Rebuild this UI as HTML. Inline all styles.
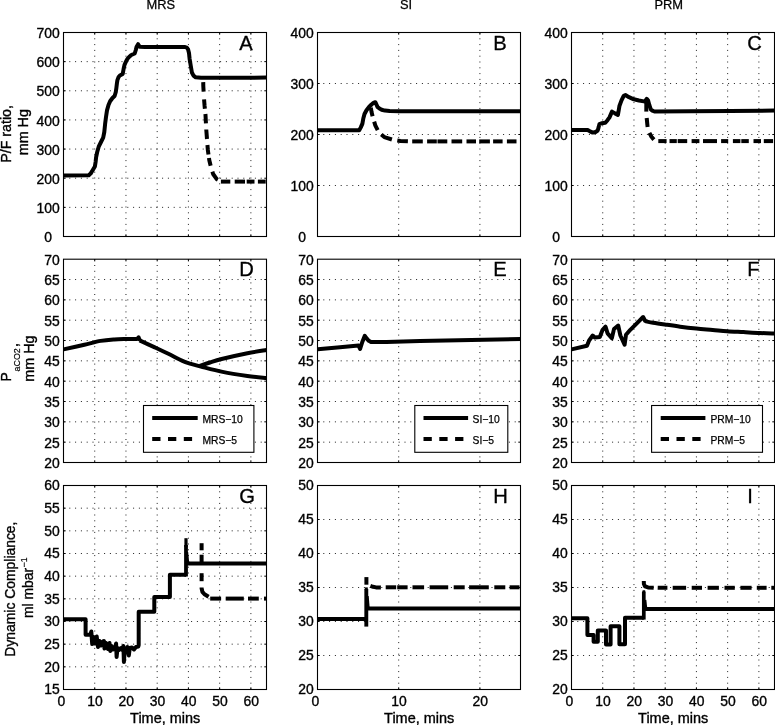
<!DOCTYPE html>
<html lang="en"><head><meta charset="utf-8"><title>Figure</title><style>
html,body{margin:0;padding:0;background:#fff;}
body{width:775px;height:725px;overflow:hidden;}
svg{display:block;font-family:"Liberation Sans", Arial, Helvetica, sans-serif;}
.gr{stroke:#000;stroke-opacity:.88;stroke-width:1;stroke-dasharray:1 4.8;fill:none;}
.tk{stroke:#000;stroke-width:1;fill:none;}
.bx{stroke:#000;stroke-width:1.1;fill:none;}
.lg{stroke:#000;stroke-width:1.1;fill:#fff;}
.cv{stroke:#000;stroke-width:4.0;fill:none;stroke-linejoin:round;stroke-linecap:butt;}
.ds{stroke-dasharray:9.1 6.3;}
.ds2{stroke-dasharray:8.3 7.5;}
.t{font-size:13.9px;fill:#000;stroke:#000;stroke-width:0.35px;}
.ti{font-size:12.9px;fill:#000;stroke:#000;stroke-width:0.25px;}
.L{font-size:20.2px;fill:#000;stroke:#000;stroke-width:0.3px;}
.cm{font-size:16px;fill:#000;stroke:#000;stroke-width:0.3px;}
.sb{font-size:8.9px;fill:#000;stroke:#000;stroke-width:0.2px;}
.lt{font-size:10.3px;fill:#000;stroke:#000;stroke-width:0.25px;}
</style></head><body>
<svg width="775" height="725" viewBox="0 0 775 725">
<rect width="775" height="725" fill="#fff"/>
<g><line class="gr" x1="94.73" y1="32.5" x2="94.73" y2="236.5"/>
<line class="gr" x1="125.96" y1="32.5" x2="125.96" y2="236.5"/>
<line class="gr" x1="157.19" y1="32.5" x2="157.19" y2="236.5"/>
<line class="gr" x1="188.42" y1="32.5" x2="188.42" y2="236.5"/>
<line class="gr" x1="219.65" y1="32.5" x2="219.65" y2="236.5"/>
<line class="gr" x1="250.88" y1="32.5" x2="250.88" y2="236.5"/>
<line class="gr" x1="63.5" y1="207.36" x2="266.5" y2="207.36"/>
<line class="gr" x1="63.5" y1="178.21" x2="266.5" y2="178.21"/>
<line class="gr" x1="63.5" y1="149.07" x2="266.5" y2="149.07"/>
<line class="gr" x1="63.5" y1="119.93" x2="266.5" y2="119.93"/>
<line class="gr" x1="63.5" y1="90.79" x2="266.5" y2="90.79"/>
<line class="gr" x1="63.5" y1="61.64" x2="266.5" y2="61.64"/>
<path class="tk" d="M94.73 236.5v-2.2 M94.73 32.5v2.2"/>
<path class="tk" d="M125.96 236.5v-2.2 M125.96 32.5v2.2"/>
<path class="tk" d="M157.19 236.5v-2.2 M157.19 32.5v2.2"/>
<path class="tk" d="M188.42 236.5v-2.2 M188.42 32.5v2.2"/>
<path class="tk" d="M219.65 236.5v-2.2 M219.65 32.5v2.2"/>
<path class="tk" d="M250.88 236.5v-2.2 M250.88 32.5v2.2"/>
<path class="tk" d="M63.5 207.36h2.2 M266.5 207.36h-2.2"/>
<path class="tk" d="M63.5 178.21h2.2 M266.5 178.21h-2.2"/>
<path class="tk" d="M63.5 149.07h2.2 M266.5 149.07h-2.2"/>
<path class="tk" d="M63.5 119.93h2.2 M266.5 119.93h-2.2"/>
<path class="tk" d="M63.5 90.79h2.2 M266.5 90.79h-2.2"/>
<path class="tk" d="M63.5 61.64h2.2 M266.5 61.64h-2.2"/>
<polyline class="cv" points="203.23,82.1 203.3,86 203.62,91.6"/>
<polyline class="cv" points="204.08,99.3 204.6,106 204.88,108.8"/>
<polyline class="cv" points="205.4,114 205.5,115 205.95,123.4"/>
<polyline class="cv" points="206.27,129.5 206.3,130 206.99,139"/>
<polyline class="cv" points="207.45,145 207.8,149.7 208.48,154.5"/>
<polyline class="cv" points="208.97,158 209.3,160.3 210.63,165.7"/>
<polyline class="cv" points="212.4,171.7 213.1,174 216.9,179.3 217.85,179.8"/>
<polyline class="cv" points="220.9,181.6 230.3,181.6"/>
<polyline class="cv" points="234.7,181.6 245,181.6"/>
<polyline class="cv" points="246.7,181.6 254.5,181.6"/>
<polyline class="cv" points="257.9,181.6 265.7,181.6"/>
<polyline class="cv" points="63.5,175.4 88.8,175.2 90.6,173.6 92.2,171 94.9,166.4 95.6,162 96.1,157.3 97.2,152 98.7,146.7 101,142 103.2,137.6 104.3,132 105.1,124.1 106,117 107,110.4 108.5,105 110.1,101.3 112.5,98 114.6,96 115.8,92 116.4,87.7 116.9,83.5 117.4,80.1 118.6,77 119.9,75.5 122.7,74 123.6,69 124.5,64.9 126,61.5 127.5,58.8 129.3,56.7 131.3,55 134.7,53.5 135.8,50 136.6,46.7 138.1,44.2 139.7,46.8 145,47.1 160,47 184.5,46.9 186.8,47.6 188.1,49.4 189,53 189.6,58.8 190.8,66 191.9,72.5 193.5,75.6 195.7,77.3 201,77.8 266.5,77.6"/>
<rect class="bx" x="63.5" y="32.5" width="203" height="204"/>
<text class="t" text-anchor="end" x="52" y="242.1">0</text>
<text class="t" text-anchor="end" x="59.7" y="212.96">100</text>
<text class="t" text-anchor="end" x="59.7" y="183.81">200</text>
<text class="t" text-anchor="end" x="59.7" y="154.67">300</text>
<text class="t" text-anchor="end" x="59.7" y="125.53">400</text>
<text class="t" text-anchor="end" x="59.7" y="96.39">500</text>
<text class="t" text-anchor="end" x="59.7" y="67.24">600</text>
<text class="t" text-anchor="end" x="59.7" y="38.1">700</text>
<text class="L" x="239.2" y="49.8">A</text></g>
<g><line class="gr" x1="398.7" y1="32.5" x2="398.7" y2="236.5"/>
<line class="gr" x1="479.9" y1="32.5" x2="479.9" y2="236.5"/>
<line class="gr" x1="317.5" y1="185.5" x2="520.5" y2="185.5"/>
<line class="gr" x1="317.5" y1="134.5" x2="520.5" y2="134.5"/>
<line class="gr" x1="317.5" y1="83.5" x2="520.5" y2="83.5"/>
<path class="tk" d="M398.7 236.5v-2.2 M398.7 32.5v2.2"/>
<path class="tk" d="M479.9 236.5v-2.2 M479.9 32.5v2.2"/>
<path class="tk" d="M317.5 185.5h2.2 M520.5 185.5h-2.2"/>
<path class="tk" d="M317.5 134.5h2.2 M520.5 134.5h-2.2"/>
<path class="tk" d="M317.5 83.5h2.2 M520.5 83.5h-2.2"/>
<polyline class="cv" points="370.74,107.8 371,108.8 371.6,112.3 372.58,116.3"/>
<polyline class="cv" points="374.18,121.6 375.3,125.3 377.7,130.1"/>
<polyline class="cv" points="381.3,134.54 384.3,137.1 391.9,139.49"/>
<polyline class="cv" points="397.3,140.53 400.4,141 407.9,141.31"/>
<polyline class="cv" points="412.2,141.4 422.8,141.4"/>
<polyline class="cv" points="427.1,141.4 436.8,141.4"/>
<polyline class="cv" points="437.5,141.4 447.3,141.4"/>
<polyline class="cv" points="451.5,141.4 462.2,141.4"/>
<polyline class="cv" points="466.5,141.4 476,141.4"/>
<polyline class="cv" points="479.2,141.4 489.9,141.4"/>
<polyline class="cv" points="493.1,141.4 502.6,141.4"/>
<polyline class="cv" points="506.9,141.4 516.5,141.4"/>
<polyline class="cv" points="317.7,130.3 359.2,130.3 360.8,127.4 362.4,123.6 363.3,118.5 364.5,114 366.5,110.2 369,107 371.5,104.5 373.5,102.9 375.3,102.2 376.3,104.2 377.5,106.9 379.5,108.6 381.6,109.7 385,110.6 389.7,111 400,111.2 520.7,111.2"/>
<rect class="bx" x="317.5" y="32.5" width="203" height="204"/>
<text class="t" text-anchor="end" x="306" y="242.1">0</text>
<text class="t" text-anchor="end" x="313.7" y="191.1">100</text>
<text class="t" text-anchor="end" x="313.7" y="140.1">200</text>
<text class="t" text-anchor="end" x="313.7" y="89.1">300</text>
<text class="t" text-anchor="end" x="313.7" y="38.1">400</text>
<text class="L" x="493.2" y="49.8">B</text></g>
<g><line class="gr" x1="602.73" y1="32.5" x2="602.73" y2="236.5"/>
<line class="gr" x1="633.96" y1="32.5" x2="633.96" y2="236.5"/>
<line class="gr" x1="665.19" y1="32.5" x2="665.19" y2="236.5"/>
<line class="gr" x1="696.42" y1="32.5" x2="696.42" y2="236.5"/>
<line class="gr" x1="727.65" y1="32.5" x2="727.65" y2="236.5"/>
<line class="gr" x1="758.88" y1="32.5" x2="758.88" y2="236.5"/>
<line class="gr" x1="571.5" y1="185.5" x2="774.5" y2="185.5"/>
<line class="gr" x1="571.5" y1="134.5" x2="774.5" y2="134.5"/>
<line class="gr" x1="571.5" y1="83.5" x2="774.5" y2="83.5"/>
<path class="tk" d="M602.73 236.5v-2.2 M602.73 32.5v2.2"/>
<path class="tk" d="M633.96 236.5v-2.2 M633.96 32.5v2.2"/>
<path class="tk" d="M665.19 236.5v-2.2 M665.19 32.5v2.2"/>
<path class="tk" d="M696.42 236.5v-2.2 M696.42 32.5v2.2"/>
<path class="tk" d="M727.65 236.5v-2.2 M727.65 32.5v2.2"/>
<path class="tk" d="M758.88 236.5v-2.2 M758.88 32.5v2.2"/>
<path class="tk" d="M571.5 185.5h2.2 M774.5 185.5h-2.2"/>
<path class="tk" d="M571.5 134.5h2.2 M774.5 134.5h-2.2"/>
<path class="tk" d="M571.5 83.5h2.2 M774.5 83.5h-2.2"/>
<polyline class="cv" points="646.3,99.5 646.3,111.6 646.3,111.6"/>
<polyline class="cv" points="646.7,118 646.7,118 647.6,127 647.6,127"/>
<polyline class="cv" points="649.4,132.9 649.4,132.9 651.5,136.8 653.9,139.6"/>
<polyline class="cv" points="658.3,141.1 666.6,141.1"/>
<polyline class="cv" points="669.5,141.1 676.8,141.1"/>
<polyline class="cv" points="677.7,141.1 687.2,141.1"/>
<polyline class="cv" points="691.6,141.1 699.4,141.1"/>
<polyline class="cv" points="703,141.1 717,141.1"/>
<polyline class="cv" points="721.1,141.1 728.2,141.1"/>
<polyline class="cv" points="732.9,141.1 740.4,141.1"/>
<polyline class="cv" points="741.3,141.1 748.8,141.1"/>
<polyline class="cv" points="753.5,141.1 761,141.1"/>
<polyline class="cv" points="763.8,141.1 773.1,141.1"/>
<polyline class="cv" points="571.5,130 587.7,130 590,131.4 592.7,132.6 595.5,132 597.7,130.5 598.6,127.4 599.4,124.1 602,123.2 605.3,122.8 607.5,120.2 609.5,117.4 610.8,114.4 612,111.6 615,113.4 617.9,114.9 618.7,110.4 619.5,105.7 621.5,100.4 623.7,95.8 625.4,95.1 629,97.2 633.8,99.3 639,100.5 643.9,101.4 644.8,101.6 646.7,98.8 648.1,100.6 649.3,105 650.8,109.4 652.4,110.7 654.4,111.5 690,111.3 730,110.9 774.5,110.6"/>
<rect class="bx" x="571.5" y="32.5" width="203" height="204"/>
<text class="t" text-anchor="end" x="560" y="242.1">0</text>
<text class="t" text-anchor="end" x="567.7" y="191.1">100</text>
<text class="t" text-anchor="end" x="567.7" y="140.1">200</text>
<text class="t" text-anchor="end" x="567.7" y="89.1">300</text>
<text class="t" text-anchor="end" x="567.7" y="38.1">400</text>
<text class="L" x="747.2" y="49.8">C</text></g>
<g><line class="gr" x1="94.73" y1="259.2" x2="94.73" y2="462.5"/>
<line class="gr" x1="125.96" y1="259.2" x2="125.96" y2="462.5"/>
<line class="gr" x1="157.19" y1="259.2" x2="157.19" y2="462.5"/>
<line class="gr" x1="188.42" y1="259.2" x2="188.42" y2="462.5"/>
<line class="gr" x1="219.65" y1="259.2" x2="219.65" y2="462.5"/>
<line class="gr" x1="250.88" y1="259.2" x2="250.88" y2="462.5"/>
<line class="gr" x1="63.5" y1="442.17" x2="266.5" y2="442.17"/>
<line class="gr" x1="63.5" y1="421.84" x2="266.5" y2="421.84"/>
<line class="gr" x1="63.5" y1="401.51" x2="266.5" y2="401.51"/>
<line class="gr" x1="63.5" y1="381.18" x2="266.5" y2="381.18"/>
<line class="gr" x1="63.5" y1="360.85" x2="266.5" y2="360.85"/>
<line class="gr" x1="63.5" y1="340.52" x2="266.5" y2="340.52"/>
<line class="gr" x1="63.5" y1="320.19" x2="266.5" y2="320.19"/>
<line class="gr" x1="63.5" y1="299.86" x2="266.5" y2="299.86"/>
<line class="gr" x1="63.5" y1="279.53" x2="266.5" y2="279.53"/>
<path class="tk" d="M94.73 462.5v-2.2 M94.73 259.2v2.2"/>
<path class="tk" d="M125.96 462.5v-2.2 M125.96 259.2v2.2"/>
<path class="tk" d="M157.19 462.5v-2.2 M157.19 259.2v2.2"/>
<path class="tk" d="M188.42 462.5v-2.2 M188.42 259.2v2.2"/>
<path class="tk" d="M219.65 462.5v-2.2 M219.65 259.2v2.2"/>
<path class="tk" d="M250.88 462.5v-2.2 M250.88 259.2v2.2"/>
<path class="tk" d="M63.5 442.17h2.2 M266.5 442.17h-2.2"/>
<path class="tk" d="M63.5 421.84h2.2 M266.5 421.84h-2.2"/>
<path class="tk" d="M63.5 401.51h2.2 M266.5 401.51h-2.2"/>
<path class="tk" d="M63.5 381.18h2.2 M266.5 381.18h-2.2"/>
<path class="tk" d="M63.5 360.85h2.2 M266.5 360.85h-2.2"/>
<path class="tk" d="M63.5 340.52h2.2 M266.5 340.52h-2.2"/>
<path class="tk" d="M63.5 320.19h2.2 M266.5 320.19h-2.2"/>
<path class="tk" d="M63.5 299.86h2.2 M266.5 299.86h-2.2"/>
<path class="tk" d="M63.5 279.53h2.2 M266.5 279.53h-2.2"/>
<path class="cv" d="M63.5 349.4C66.98 348.62 78.22 346.12 84.4 344.7C90.58 343.28 95.63 341.78 100.6 340.9C105.57 340.02 109.97 339.72 114.2 339.4C118.43 339.08 122.13 339.08 126 339C129.87 338.92 135.5 338.92 137.4 338.9"/>
<polyline class="cv" points="136.5,338.9 137.6,338.6 138.6,337.4 139.9,340.6"/>
<path class="cv" d="M139.6 340.4C142.13 341.57 150 345.17 154.8 347.4C159.6 349.63 163.88 351.6 168.4 353.8C172.92 356 178.3 358.97 181.9 360.6C185.5 362.23 186.83 362.6 190 363.6C193.17 364.6 195.47 365.22 200.9 366.6C206.33 367.98 214.85 370.35 222.6 371.9C230.35 373.45 240.08 374.88 247.4 375.9C254.72 376.92 263.32 377.65 266.5 378"/>
<path class="cv" d="M199.7 366C201.42 365.42 206.35 363.67 210 362.5C213.65 361.33 215.37 360.55 221.6 359C227.83 357.45 239.92 354.7 247.4 353.2C254.88 351.7 263.32 350.53 266.5 350"/>
<rect class="bx" x="63.5" y="259.2" width="203" height="203.3"/>
<text class="t" text-anchor="end" x="59.7" y="467.9">20</text>
<text class="t" text-anchor="end" x="59.7" y="447.57">25</text>
<text class="t" text-anchor="end" x="59.7" y="427.24">30</text>
<text class="t" text-anchor="end" x="59.7" y="406.91">35</text>
<text class="t" text-anchor="end" x="59.7" y="386.58">40</text>
<text class="t" text-anchor="end" x="59.7" y="366.25">45</text>
<text class="t" text-anchor="end" x="59.7" y="345.92">50</text>
<text class="t" text-anchor="end" x="59.7" y="325.59">55</text>
<text class="t" text-anchor="end" x="59.7" y="305.26">60</text>
<text class="t" text-anchor="end" x="59.7" y="284.93">65</text>
<text class="t" text-anchor="end" x="59.7" y="264.6">70</text>
<text class="L" x="239.2" y="275.8">D</text></g>
<g><line class="gr" x1="398.7" y1="259.2" x2="398.7" y2="462.5"/>
<line class="gr" x1="479.9" y1="259.2" x2="479.9" y2="462.5"/>
<line class="gr" x1="317.5" y1="442.17" x2="520.5" y2="442.17"/>
<line class="gr" x1="317.5" y1="421.84" x2="520.5" y2="421.84"/>
<line class="gr" x1="317.5" y1="401.51" x2="520.5" y2="401.51"/>
<line class="gr" x1="317.5" y1="381.18" x2="520.5" y2="381.18"/>
<line class="gr" x1="317.5" y1="360.85" x2="520.5" y2="360.85"/>
<line class="gr" x1="317.5" y1="340.52" x2="520.5" y2="340.52"/>
<line class="gr" x1="317.5" y1="320.19" x2="520.5" y2="320.19"/>
<line class="gr" x1="317.5" y1="299.86" x2="520.5" y2="299.86"/>
<line class="gr" x1="317.5" y1="279.53" x2="520.5" y2="279.53"/>
<path class="tk" d="M398.7 462.5v-2.2 M398.7 259.2v2.2"/>
<path class="tk" d="M479.9 462.5v-2.2 M479.9 259.2v2.2"/>
<path class="tk" d="M317.5 442.17h2.2 M520.5 442.17h-2.2"/>
<path class="tk" d="M317.5 421.84h2.2 M520.5 421.84h-2.2"/>
<path class="tk" d="M317.5 401.51h2.2 M520.5 401.51h-2.2"/>
<path class="tk" d="M317.5 381.18h2.2 M520.5 381.18h-2.2"/>
<path class="tk" d="M317.5 360.85h2.2 M520.5 360.85h-2.2"/>
<path class="tk" d="M317.5 340.52h2.2 M520.5 340.52h-2.2"/>
<path class="tk" d="M317.5 320.19h2.2 M520.5 320.19h-2.2"/>
<path class="tk" d="M317.5 299.86h2.2 M520.5 299.86h-2.2"/>
<path class="tk" d="M317.5 279.53h2.2 M520.5 279.53h-2.2"/>
<polyline class="cv" points="317.7,349.2 340,347.3 358.6,345.6 360.1,348.9 362.3,342 364.8,335.8 366.8,338.6 368.8,340.8 371,342 386.4,341.9 420,340.9 520.7,339"/>
<rect class="bx" x="317.5" y="259.2" width="203" height="203.3"/>
<text class="t" text-anchor="end" x="313.7" y="467.9">20</text>
<text class="t" text-anchor="end" x="313.7" y="447.57">25</text>
<text class="t" text-anchor="end" x="313.7" y="427.24">30</text>
<text class="t" text-anchor="end" x="313.7" y="406.91">35</text>
<text class="t" text-anchor="end" x="313.7" y="386.58">40</text>
<text class="t" text-anchor="end" x="313.7" y="366.25">45</text>
<text class="t" text-anchor="end" x="313.7" y="345.92">50</text>
<text class="t" text-anchor="end" x="313.7" y="325.59">55</text>
<text class="t" text-anchor="end" x="313.7" y="305.26">60</text>
<text class="t" text-anchor="end" x="313.7" y="284.93">65</text>
<text class="t" text-anchor="end" x="313.7" y="264.6">70</text>
<text class="L" x="493.2" y="275.8">E</text></g>
<g><line class="gr" x1="602.73" y1="259.2" x2="602.73" y2="462.5"/>
<line class="gr" x1="633.96" y1="259.2" x2="633.96" y2="462.5"/>
<line class="gr" x1="665.19" y1="259.2" x2="665.19" y2="462.5"/>
<line class="gr" x1="696.42" y1="259.2" x2="696.42" y2="462.5"/>
<line class="gr" x1="727.65" y1="259.2" x2="727.65" y2="462.5"/>
<line class="gr" x1="758.88" y1="259.2" x2="758.88" y2="462.5"/>
<line class="gr" x1="571.5" y1="442.17" x2="774.5" y2="442.17"/>
<line class="gr" x1="571.5" y1="421.84" x2="774.5" y2="421.84"/>
<line class="gr" x1="571.5" y1="401.51" x2="774.5" y2="401.51"/>
<line class="gr" x1="571.5" y1="381.18" x2="774.5" y2="381.18"/>
<line class="gr" x1="571.5" y1="360.85" x2="774.5" y2="360.85"/>
<line class="gr" x1="571.5" y1="340.52" x2="774.5" y2="340.52"/>
<line class="gr" x1="571.5" y1="320.19" x2="774.5" y2="320.19"/>
<line class="gr" x1="571.5" y1="299.86" x2="774.5" y2="299.86"/>
<line class="gr" x1="571.5" y1="279.53" x2="774.5" y2="279.53"/>
<path class="tk" d="M602.73 462.5v-2.2 M602.73 259.2v2.2"/>
<path class="tk" d="M633.96 462.5v-2.2 M633.96 259.2v2.2"/>
<path class="tk" d="M665.19 462.5v-2.2 M665.19 259.2v2.2"/>
<path class="tk" d="M696.42 462.5v-2.2 M696.42 259.2v2.2"/>
<path class="tk" d="M727.65 462.5v-2.2 M727.65 259.2v2.2"/>
<path class="tk" d="M758.88 462.5v-2.2 M758.88 259.2v2.2"/>
<path class="tk" d="M571.5 442.17h2.2 M774.5 442.17h-2.2"/>
<path class="tk" d="M571.5 421.84h2.2 M774.5 421.84h-2.2"/>
<path class="tk" d="M571.5 401.51h2.2 M774.5 401.51h-2.2"/>
<path class="tk" d="M571.5 381.18h2.2 M774.5 381.18h-2.2"/>
<path class="tk" d="M571.5 360.85h2.2 M774.5 360.85h-2.2"/>
<path class="tk" d="M571.5 340.52h2.2 M774.5 340.52h-2.2"/>
<path class="tk" d="M571.5 320.19h2.2 M774.5 320.19h-2.2"/>
<path class="tk" d="M571.5 299.86h2.2 M774.5 299.86h-2.2"/>
<path class="tk" d="M571.5 279.53h2.2 M774.5 279.53h-2.2"/>
<polyline class="cv" points="571.5,349.4 587,345.7 589.1,340.5 592.7,335.5 594.8,337.6 599.8,336.9 602.6,329.8 605.5,326.7 607.6,333.4 611.8,338.3 614,329.1 618.2,325.5 620.4,335.5 624.6,344.7 626,334.8 630.3,329.8 638.8,321.3 643.1,317 645.2,321 646.5,321.5"/>
<path class="cv" d="M645.8 321.3C647.02 321.53 649.93 322.17 653.1 322.7C656.27 323.23 660.28 323.83 664.8 324.5C669.32 325.17 674.93 326.03 680.2 326.7C685.47 327.37 690.98 327.97 696.4 328.5C701.82 329.03 707.58 329.45 712.7 329.9C717.82 330.35 721.98 330.83 727.1 331.2C732.22 331.57 737.98 331.8 743.4 332.1C748.82 332.4 754.42 332.77 759.6 333C764.78 333.23 772.02 333.42 774.5 333.5"/>
<rect class="bx" x="571.5" y="259.2" width="203" height="203.3"/>
<text class="t" text-anchor="end" x="567.7" y="467.9">20</text>
<text class="t" text-anchor="end" x="567.7" y="447.57">25</text>
<text class="t" text-anchor="end" x="567.7" y="427.24">30</text>
<text class="t" text-anchor="end" x="567.7" y="406.91">35</text>
<text class="t" text-anchor="end" x="567.7" y="386.58">40</text>
<text class="t" text-anchor="end" x="567.7" y="366.25">45</text>
<text class="t" text-anchor="end" x="567.7" y="345.92">50</text>
<text class="t" text-anchor="end" x="567.7" y="325.59">55</text>
<text class="t" text-anchor="end" x="567.7" y="305.26">60</text>
<text class="t" text-anchor="end" x="567.7" y="284.93">65</text>
<text class="t" text-anchor="end" x="567.7" y="264.6">70</text>
<text class="L" x="747.2" y="275.8">F</text></g>
<g><line class="gr" x1="94.73" y1="485.5" x2="94.73" y2="689.5"/>
<line class="gr" x1="125.96" y1="485.5" x2="125.96" y2="689.5"/>
<line class="gr" x1="157.19" y1="485.5" x2="157.19" y2="689.5"/>
<line class="gr" x1="188.42" y1="485.5" x2="188.42" y2="689.5"/>
<line class="gr" x1="219.65" y1="485.5" x2="219.65" y2="689.5"/>
<line class="gr" x1="250.88" y1="485.5" x2="250.88" y2="689.5"/>
<line class="gr" x1="63.5" y1="666.83" x2="266.5" y2="666.83"/>
<line class="gr" x1="63.5" y1="644.17" x2="266.5" y2="644.17"/>
<line class="gr" x1="63.5" y1="621.5" x2="266.5" y2="621.5"/>
<line class="gr" x1="63.5" y1="598.83" x2="266.5" y2="598.83"/>
<line class="gr" x1="63.5" y1="576.17" x2="266.5" y2="576.17"/>
<line class="gr" x1="63.5" y1="553.5" x2="266.5" y2="553.5"/>
<line class="gr" x1="63.5" y1="530.83" x2="266.5" y2="530.83"/>
<line class="gr" x1="63.5" y1="508.17" x2="266.5" y2="508.17"/>
<path class="tk" d="M94.73 689.5v-2.2 M94.73 485.5v2.2"/>
<path class="tk" d="M125.96 689.5v-2.2 M125.96 485.5v2.2"/>
<path class="tk" d="M157.19 689.5v-2.2 M157.19 485.5v2.2"/>
<path class="tk" d="M188.42 689.5v-2.2 M188.42 485.5v2.2"/>
<path class="tk" d="M219.65 689.5v-2.2 M219.65 485.5v2.2"/>
<path class="tk" d="M250.88 689.5v-2.2 M250.88 485.5v2.2"/>
<path class="tk" d="M63.5 666.83h2.2 M266.5 666.83h-2.2"/>
<path class="tk" d="M63.5 644.17h2.2 M266.5 644.17h-2.2"/>
<path class="tk" d="M63.5 621.5h2.2 M266.5 621.5h-2.2"/>
<path class="tk" d="M63.5 598.83h2.2 M266.5 598.83h-2.2"/>
<path class="tk" d="M63.5 576.17h2.2 M266.5 576.17h-2.2"/>
<path class="tk" d="M63.5 553.5h2.2 M266.5 553.5h-2.2"/>
<path class="tk" d="M63.5 530.83h2.2 M266.5 530.83h-2.2"/>
<path class="tk" d="M63.5 508.17h2.2 M266.5 508.17h-2.2"/>
<polyline class="cv" points="201.6,543.2 201.6,550.3"/>
<polyline class="cv" points="201.6,554.7 201.6,565"/>
<polyline class="cv" points="201.6,573.2 201.6,581.2"/>
<polyline class="cv" points="201.6,587.4 201.6,588.3 202.4,591.9 204.5,594.3 208.6,596.8"/>
<polyline class="cv" points="210.2,598.6 221.1,598.6"/>
<polyline class="cv" points="225.7,598.6 243.8,598.6"/>
<polyline class="cv" points="248,598.6 258.8,598.6"/>
<polyline class="cv" points="264,598.6 266.5,598.6"/>
<polyline class="cv" points="63.5,619.3 85.6,619.3 85.6,634.8 90.5,634.8 91.3,631.5 92.2,644 93.5,637 95,643.5 96.7,636.5 98,647 99.5,641 101,645.5 102.5,642 103.9,641 104.5,648.5 106,643 108,649 109.5,643 110.3,651 111.5,646 113,649.5 115,647.5 116.1,643.5 116.6,657 117.5,648 119,650 121,648 122.5,650 123.4,646 123.9,662 124.8,649 126,651 127.5,647 128.8,655.5 129.8,648 132,647.5 134,649.5 136,647 138.3,646.5 138.7,645 138.7,611.8 154.3,611.8 154.3,597 169.9,597 169.9,574.8 186,574.8"/>
<polyline class="cv" style="stroke-width:3.8" points="186,576.5 186,545"/>
<polyline class="cv" style="stroke-width:3.2" points="186,547 186,538.2"/>
<polyline class="cv" style="stroke-width:2.4" points="187,552 188,562.8 191,563.4"/>
<polyline class="cv" points="186.5,563.5 266.5,563.5"/>
<rect class="bx" x="63.5" y="485.5" width="203" height="204"/>
<text class="t" text-anchor="middle" x="61.4" y="706.4">0</text>
<text class="t" text-anchor="middle" x="95.03" y="706.4">10</text>
<text class="t" text-anchor="middle" x="126.26" y="706.4">20</text>
<text class="t" text-anchor="middle" x="157.49" y="706.4">30</text>
<text class="t" text-anchor="middle" x="188.72" y="706.4">40</text>
<text class="t" text-anchor="middle" x="219.95" y="706.4">50</text>
<text class="t" text-anchor="middle" x="251.18" y="706.4">60</text>
<text class="t" text-anchor="end" x="59.7" y="694.3">15</text>
<text class="t" text-anchor="end" x="59.7" y="671.63">20</text>
<text class="t" text-anchor="end" x="59.7" y="648.97">25</text>
<text class="t" text-anchor="end" x="59.7" y="626.3">30</text>
<text class="t" text-anchor="end" x="59.7" y="603.63">35</text>
<text class="t" text-anchor="end" x="59.7" y="580.97">40</text>
<text class="t" text-anchor="end" x="59.7" y="558.3">45</text>
<text class="t" text-anchor="end" x="59.7" y="535.63">50</text>
<text class="t" text-anchor="end" x="59.7" y="512.97">55</text>
<text class="t" text-anchor="end" x="59.7" y="490.3">60</text>
<text class="L" x="239.2" y="502.6">G</text></g>
<g><line class="gr" x1="398.7" y1="485.5" x2="398.7" y2="689.5"/>
<line class="gr" x1="479.9" y1="485.5" x2="479.9" y2="689.5"/>
<line class="gr" x1="317.5" y1="655.5" x2="520.5" y2="655.5"/>
<line class="gr" x1="317.5" y1="621.5" x2="520.5" y2="621.5"/>
<line class="gr" x1="317.5" y1="587.5" x2="520.5" y2="587.5"/>
<line class="gr" x1="317.5" y1="553.5" x2="520.5" y2="553.5"/>
<line class="gr" x1="317.5" y1="519.5" x2="520.5" y2="519.5"/>
<path class="tk" d="M398.7 689.5v-2.2 M398.7 485.5v2.2"/>
<path class="tk" d="M479.9 689.5v-2.2 M479.9 485.5v2.2"/>
<path class="tk" d="M317.5 655.5h2.2 M520.5 655.5h-2.2"/>
<path class="tk" d="M317.5 621.5h2.2 M520.5 621.5h-2.2"/>
<path class="tk" d="M317.5 587.5h2.2 M520.5 587.5h-2.2"/>
<path class="tk" d="M317.5 553.5h2.2 M520.5 553.5h-2.2"/>
<path class="tk" d="M317.5 519.5h2.2 M520.5 519.5h-2.2"/>
<polyline class="cv" points="366.4,577.1 366.4,584.7"/>
<polyline class="cv" points="370.4,585.9 373,586.8 376,587.4 380.9,587.5 380.9,587.5"/>
<polyline class="cv" points="385.7,587.3 396.2,587.3"/>
<polyline class="cv" points="397.2,587.3 407.6,587.3"/>
<polyline class="cv" points="412.5,587.3 424.1,587.3"/>
<polyline class="cv" points="429.6,587.3 448.2,587.3"/>
<polyline class="cv" points="453.7,587.3 464.7,587.3"/>
<polyline class="cv" points="469.1,587.3 488.8,587.3"/>
<polyline class="cv" points="494.3,587.3 505.3,587.3"/>
<polyline class="cv" points="509.6,587.3 519.5,587.3"/>
<polyline class="cv" points="317.5,619.1 366.3,619.1"/>
<polyline class="cv" style="stroke-width:3.9" points="366.3,626.6 366.3,589"/>
<polyline class="cv" style="stroke-width:3" points="366.3,590 366.3,587.4"/>
<polyline class="cv" style="stroke-width:2.2" points="367.6,596 368.6,608.2"/>
<polyline class="cv" points="366.3,608.5 520.5,608.5"/>
<rect class="bx" x="317.5" y="485.5" width="203" height="204"/>
<text class="t" text-anchor="middle" x="315.4" y="706.4">0</text>
<text class="t" text-anchor="middle" x="399" y="706.4">10</text>
<text class="t" text-anchor="middle" x="480.2" y="706.4">20</text>
<text class="t" text-anchor="end" x="313.7" y="694.3">20</text>
<text class="t" text-anchor="end" x="313.7" y="660.3">25</text>
<text class="t" text-anchor="end" x="313.7" y="626.3">30</text>
<text class="t" text-anchor="end" x="313.7" y="592.3">35</text>
<text class="t" text-anchor="end" x="313.7" y="558.3">40</text>
<text class="t" text-anchor="end" x="313.7" y="524.3">45</text>
<text class="t" text-anchor="end" x="313.7" y="490.3">50</text>
<text class="L" x="493.2" y="502.6">H</text></g>
<g><line class="gr" x1="602.73" y1="485.5" x2="602.73" y2="689.5"/>
<line class="gr" x1="633.96" y1="485.5" x2="633.96" y2="689.5"/>
<line class="gr" x1="665.19" y1="485.5" x2="665.19" y2="689.5"/>
<line class="gr" x1="696.42" y1="485.5" x2="696.42" y2="689.5"/>
<line class="gr" x1="727.65" y1="485.5" x2="727.65" y2="689.5"/>
<line class="gr" x1="758.88" y1="485.5" x2="758.88" y2="689.5"/>
<line class="gr" x1="571.5" y1="655.5" x2="774.5" y2="655.5"/>
<line class="gr" x1="571.5" y1="621.5" x2="774.5" y2="621.5"/>
<line class="gr" x1="571.5" y1="587.5" x2="774.5" y2="587.5"/>
<line class="gr" x1="571.5" y1="553.5" x2="774.5" y2="553.5"/>
<line class="gr" x1="571.5" y1="519.5" x2="774.5" y2="519.5"/>
<path class="tk" d="M602.73 689.5v-2.2 M602.73 485.5v2.2"/>
<path class="tk" d="M633.96 689.5v-2.2 M633.96 485.5v2.2"/>
<path class="tk" d="M665.19 689.5v-2.2 M665.19 485.5v2.2"/>
<path class="tk" d="M696.42 689.5v-2.2 M696.42 485.5v2.2"/>
<path class="tk" d="M727.65 689.5v-2.2 M727.65 485.5v2.2"/>
<path class="tk" d="M758.88 689.5v-2.2 M758.88 485.5v2.2"/>
<path class="tk" d="M571.5 655.5h2.2 M774.5 655.5h-2.2"/>
<path class="tk" d="M571.5 621.5h2.2 M774.5 621.5h-2.2"/>
<path class="tk" d="M571.5 587.5h2.2 M774.5 587.5h-2.2"/>
<path class="tk" d="M571.5 553.5h2.2 M774.5 553.5h-2.2"/>
<path class="tk" d="M571.5 519.5h2.2 M774.5 519.5h-2.2"/>
<polyline class="cv" points="643.8,581 643.9,584 645,586.3 648,587.4 653.7,587.7"/>
<polyline class="cv" points="657.7,587.79 658,587.8 667.4,587.8"/>
<polyline class="cv" points="672.7,587.8 686.1,587.8"/>
<polyline class="cv" points="691.7,587.8 702,587.8"/>
<polyline class="cv" points="707.6,587.8 718.9,587.8"/>
<polyline class="cv" points="724.5,587.8 734.8,587.8"/>
<polyline class="cv" points="740.4,587.8 751.6,587.8"/>
<polyline class="cv" points="756.8,587.8 766.6,587.8"/>
<polyline class="cv" points="771.3,587.8 774.5,587.8"/>
<polyline class="cv" points="571.5,618.3 587.4,618.3 587.4,634.9 593.6,634.9 593.6,641.7 597.8,641.7 597.8,630.5 606,630.5 606,644.6 610.6,644.6 610.6,626.2 619.4,626.2 619.4,644.2 625,644.2 625,617.7 643.8,617.7"/>
<polyline class="cv" style="stroke-width:3.7" points="643.8,619.6 643.8,591.5"/>
<polyline class="cv" style="stroke-width:2.6" points="643.8,593 643.9,590.3"/>
<polyline class="cv" style="stroke-width:2.2" points="645.2,600 646.2,608.6"/>
<polyline class="cv" points="643.9,609 774.5,609"/>
<rect class="bx" x="571.5" y="485.5" width="203" height="204"/>
<text class="t" text-anchor="middle" x="569.4" y="706.4">0</text>
<text class="t" text-anchor="middle" x="603.03" y="706.4">10</text>
<text class="t" text-anchor="middle" x="634.26" y="706.4">20</text>
<text class="t" text-anchor="middle" x="665.49" y="706.4">30</text>
<text class="t" text-anchor="middle" x="696.72" y="706.4">40</text>
<text class="t" text-anchor="middle" x="727.95" y="706.4">50</text>
<text class="t" text-anchor="middle" x="759.18" y="706.4">60</text>
<text class="t" text-anchor="end" x="567.7" y="694.3">20</text>
<text class="t" text-anchor="end" x="567.7" y="660.3">25</text>
<text class="t" text-anchor="end" x="567.7" y="626.3">30</text>
<text class="t" text-anchor="end" x="567.7" y="592.3">35</text>
<text class="t" text-anchor="end" x="567.7" y="558.3">40</text>
<text class="t" text-anchor="end" x="567.7" y="524.3">45</text>
<text class="t" text-anchor="end" x="567.7" y="490.3">50</text>
<text class="L" x="747.2" y="502.6">I</text></g>
<text class="ti" text-anchor="middle" x="160.75" y="9.35">MRS</text>
<text class="ti" text-anchor="middle" x="406.1" y="9.35">SI</text>
<text class="ti" text-anchor="middle" x="668.75" y="9.35">PRM</text>
<text class="t" text-anchor="middle" textLength="70.2" lengthAdjust="spacingAndGlyphs" x="165.2" y="722.9">Time, mins</text>
<text class="t" text-anchor="middle" textLength="70.2" lengthAdjust="spacingAndGlyphs" x="419.2" y="722.9">Time, mins</text>
<text class="t" text-anchor="middle" textLength="70.2" lengthAdjust="spacingAndGlyphs" x="673.2" y="722.9">Time, mins</text>
<text class="t" text-anchor="middle" transform="translate(10.6 133.9) rotate(-90)" textLength="57.6" lengthAdjust="spacingAndGlyphs">P/F ratio,</text>
<text class="t" text-anchor="middle" transform="translate(27.8 132.2) rotate(-90)" textLength="46.3" lengthAdjust="spacingAndGlyphs">mm Hg</text>
<text class="t" text-anchor="start" transform="translate(11.4 381.5) rotate(-90)">P</text>
<text class="sb" text-anchor="start" transform="translate(19.5 371.4) rotate(-90)">aCO2</text>
<text class="cm" text-anchor="start" transform="translate(17.8 347.2) rotate(-90)">,</text>
<text class="t" text-anchor="middle" transform="translate(33.8 358.6) rotate(-90)" textLength="46.3" lengthAdjust="spacingAndGlyphs">mm Hg</text>
<text class="t" text-anchor="middle" transform="translate(15.3 589.1) rotate(-90)">Dynamic Compliance,</text>
<text class="t" text-anchor="start" transform="translate(33.4 618) rotate(-90)">ml mbar</text>
<text class="sb" text-anchor="start" transform="translate(26.7 567.4) rotate(-90)">−1</text>
<rect class="lg" x="143.5" y="405.5" width="110.4" height="46.8"/><line class="cv" x1="152.2" y1="418" x2="197.7" y2="418"/><line class="cv ds2" x1="152.2" y1="439.1" x2="197.7" y2="439.1"/><text class="lt" x="202.4" y="422.5">MRS−10</text><text class="lt" x="202.4" y="443.6">MRS−5</text>
<rect class="lg" x="414.8" y="405.5" width="93" height="46.8"/><line class="cv" x1="423.5" y1="418" x2="468.1" y2="418"/><line class="cv ds2" x1="423.5" y1="439.1" x2="468.1" y2="439.1"/><text class="lt" x="472.6" y="422.5">SI−10</text><text class="lt" x="472.6" y="443.6">SI−5</text>
<rect class="lg" x="651.6" y="405.5" width="110.9" height="46.8"/><line class="cv" x1="660.7" y1="418" x2="705.4" y2="418"/><line class="cv ds2" x1="660.7" y1="439.1" x2="705.4" y2="439.1"/><text class="lt" x="710.4" y="422.5">PRM−10</text><text class="lt" x="710.4" y="443.6">PRM−5</text>
</svg>
</body></html>
